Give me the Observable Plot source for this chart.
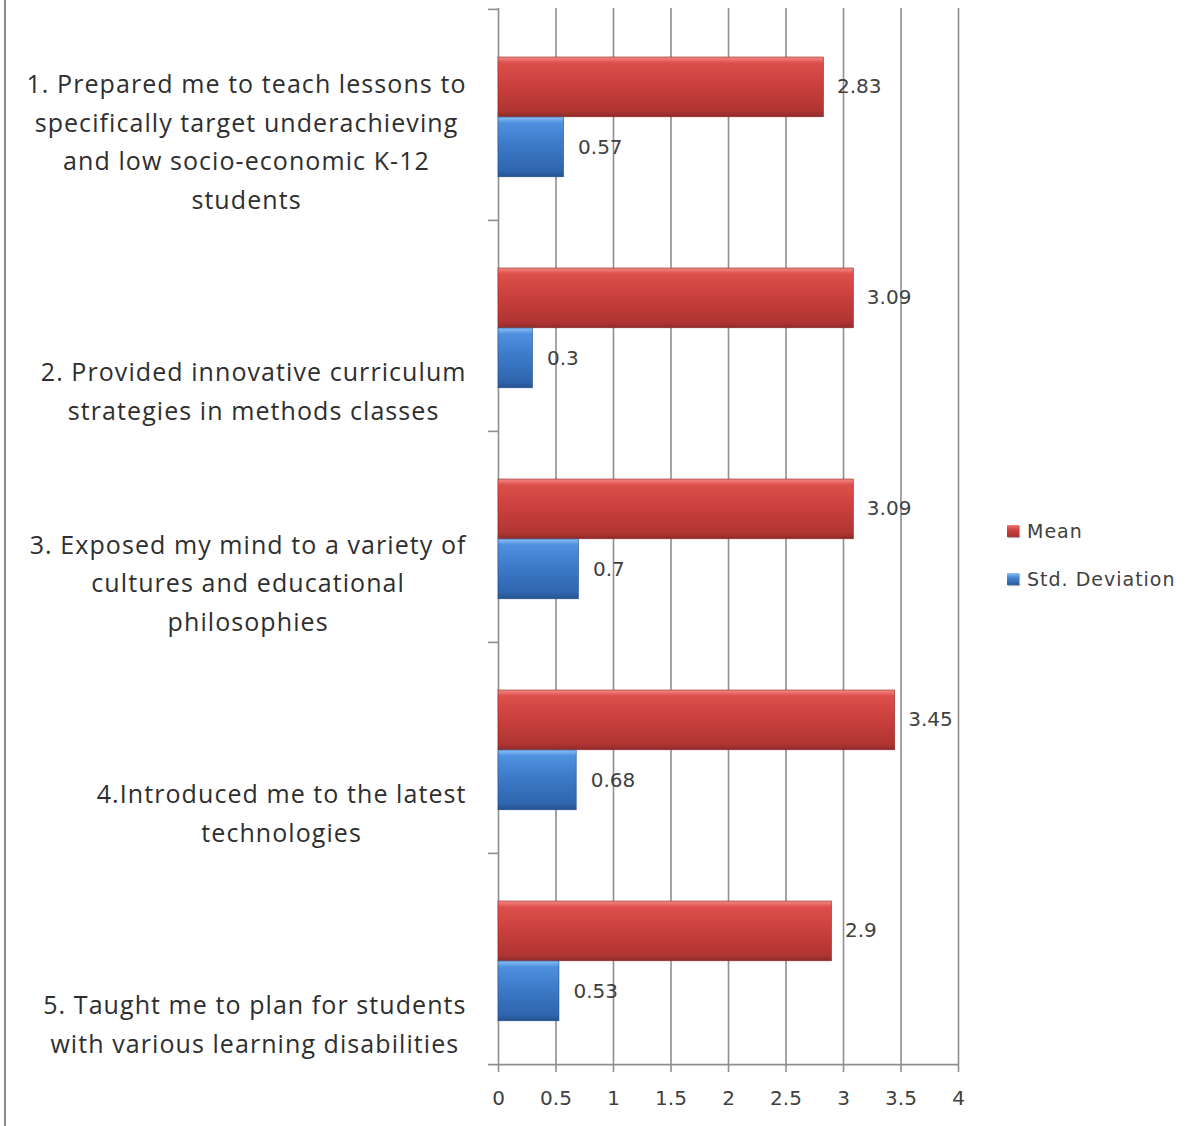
<!DOCTYPE html>
<html><head><meta charset="utf-8">
<script src="https://cdn.jsdelivr.net/npm/d3@7"></script>
<script src="https://cdn.jsdelivr.net/npm/@observablehq/plot@0.6"></script>
<style>
body{margin:0;background:#fff;}
#wrap{position:relative;width:1196px;height:1126px;overflow:hidden;background:#fff;}
#chart{position:absolute;left:0;top:0;}
#border{position:absolute;left:4px;top:0;width:2px;height:1126px;background:#8c8c8c;z-index:2;}
#legend{position:absolute;left:1007px;top:519px;font-family:"DejaVu Sans";font-size:19px;color:#404040;letter-spacing:1px;z-index:2;}
#legend .item{display:flex;align-items:center;height:24px;margin-bottom:24px;}
#legend .sw{width:12px;height:12px;margin-right:8px;box-shadow:1px 1px 1px rgba(0,0,0,0.3);}
</style></head>
<body>
<div id="wrap"><div id="chart"></div><div id="border"></div><div id="legend"></div></div>
<script>
const categories = ["Q1","Q2","Q3","Q4","Q5"];
const categoryLabels = [
  "1. Prepared me to teach lessons to\nspecifically target underachieving\nand low socio-economic K-12\nstudents",
  "2. Provided innovative curriculum\nstrategies in methods classes",
  "3. Exposed my mind to a variety of\ncultures and educational\nphilosophies",
  "4.Introduced me to the latest\ntechnologies",
  "5. Taught me to plan for students\nwith various learning disabilities"
];
const seriesNames = ["Mean", "Std. Deviation"];
const meanValues = [2.83, 3.09, 3.09, 3.45, 2.9];
const stdValues = [0.57, 0.3, 0.7, 0.68, 0.53];
const xTicks = [0, 0.5, 1, 1.5, 2, 2.5, 3, 3.5, 4];

const W = 1196, H = 1126, mL = 498, mR = 238, mT = 8, mB = 62;
const bw = (H - mT - mB) / categories.length;
const gridColor = "#8f8f8f";
const textColor = "#404040";

const meanRows = categories.map((c, i) => ({category: c, value: meanValues[i], series: seriesNames[0]}));
const stdRows = categories.map((c, i) => ({category: c, value: stdValues[i], series: seriesNames[1]}));

// category label placement: lines centred in a block whose right edge is near the axis
const labelFont = "Open Sans";
const labelSize = 25;
const ctx = document.createElement("canvas").getContext("2d");
ctx.font = `${labelSize}px "${labelFont}"`;
const refLine = categoryLabels[0].split("\n")[0];
const letterSp = Math.max(0, (440 - ctx.measureText(refLine).width) / refLine.length);
const lineW = s => ctx.measureText(s).width + letterSp * s.length;
const labelRight = 466;
const labelMarks = categories.map((c, i) => {
  const maxW = d3.max(categoryLabels[i].split("\n"), lineW);
  const cx = labelRight - maxW / 2;
  return Plot.text([c], {
    y: d => d, text: () => categoryLabels[i], frameAnchor: "left", dx: cx - mL,
    textAnchor: "middle", lineAnchor: "bottom", dy: bw / 2 - 12,
    fontFamily: labelFont, fontSize: labelSize, lineHeight: 1.54, fill: "#2e2e2e"
  });
});

const chart = Plot.plot({
  width: W, height: H, marginLeft: mL, marginRight: mR, marginTop: mT, marginBottom: mB,
  x: {domain: [0, 4], ticks: xTicks, label: null},
  y: {domain: categories, padding: 0, axis: null},
  style: {fontFamily: "DejaVu Sans", fontSize: "20px", color: textColor, background: "white", overflow: "visible"},
  marks: [
    Plot.gridX(xTicks, {stroke: gridColor, strokeOpacity: 1, strokeWidth: 1.6}),
    Plot.ruleY(categories, {y: d => d, dy: -bw / 2, x1: 0, x2: 0, insetLeft: -10, stroke: gridColor, strokeWidth: 1.6}),
    Plot.ruleY([categories[categories.length - 1]], {y: d => d, dy: bw / 2, x1: 0, x2: 4, insetLeft: -10, stroke: gridColor, strokeWidth: 1.6}),
    Plot.axisX(xTicks, {tickSize: 8, tickPadding: 18, stroke: gridColor, strokeWidth: 1.6, fill: textColor, fontSize: 20, tickFormat: d => String(d), label: null}),
    Plot.barX(meanRows, {x: "value", y: "category", fill: "url(#gradMean)", insetTop: 48, insetBottom: bw - 108, stroke: "#8e2a28", strokeWidth: 0.6}),
    Plot.barX(stdRows, {x: "value", y: "category", fill: "url(#gradStd)", insetTop: 108, insetBottom: bw - 168, stroke: "#234f8e", strokeWidth: 0.6}),
    Plot.text(meanRows, {x: "value", y: "category", text: d => String(d.value), dx: 13, dy: -28, textAnchor: "start", fill: textColor, fontSize: 20}),
    Plot.text(stdRows, {x: "value", y: "category", text: d => String(d.value), dx: 14, dy: 33, textAnchor: "start", fill: textColor, fontSize: 20}),
    ...labelMarks
  ]
});

// letter spacing for the category labels (Excel's wide rendering)
d3.select(chart).selectAll(`g[font-family="${labelFont}"]`).style("letter-spacing", `${letterSp}px`);

// gradients for the bevelled bar look
const defs = d3.select(chart).insert("defs", ":first-child");
function grad(id, stops) {
  const g = defs.append("linearGradient").attr("id", id).attr("x1", 0).attr("y1", 0).attr("x2", 0).attr("y2", 1);
  stops.forEach(([o, c]) => g.append("stop").attr("offset", o).attr("stop-color", c));
}
grad("gradMean", [[0, "#f58a86"], [0.1, "#dc4f4b"], [0.5, "#c93f3c"], [0.9, "#b03532"], [1, "#8f2b29"]]);
grad("gradStd", [[0, "#8cc0f5"], [0.1, "#4e90df"], [0.5, "#3b78c6"], [0.9, "#2f65ad"], [1, "#24528f"]]);

document.getElementById("chart").appendChild(chart);

const legend = d3.select("#legend");
const swatchBg = [
  "linear-gradient(#f07a76,#d0433f 40%,#a83230)",
  "linear-gradient(#8cc0f5,#4584d4 40%,#2a5c9e)"
];
seriesNames.forEach((s, i) => {
  const item = legend.append("div").attr("class", "item");
  item.append("div").attr("class", "sw").style("background", swatchBg[i]);
  item.append("span").text(s);
});
</script>
</body></html>
